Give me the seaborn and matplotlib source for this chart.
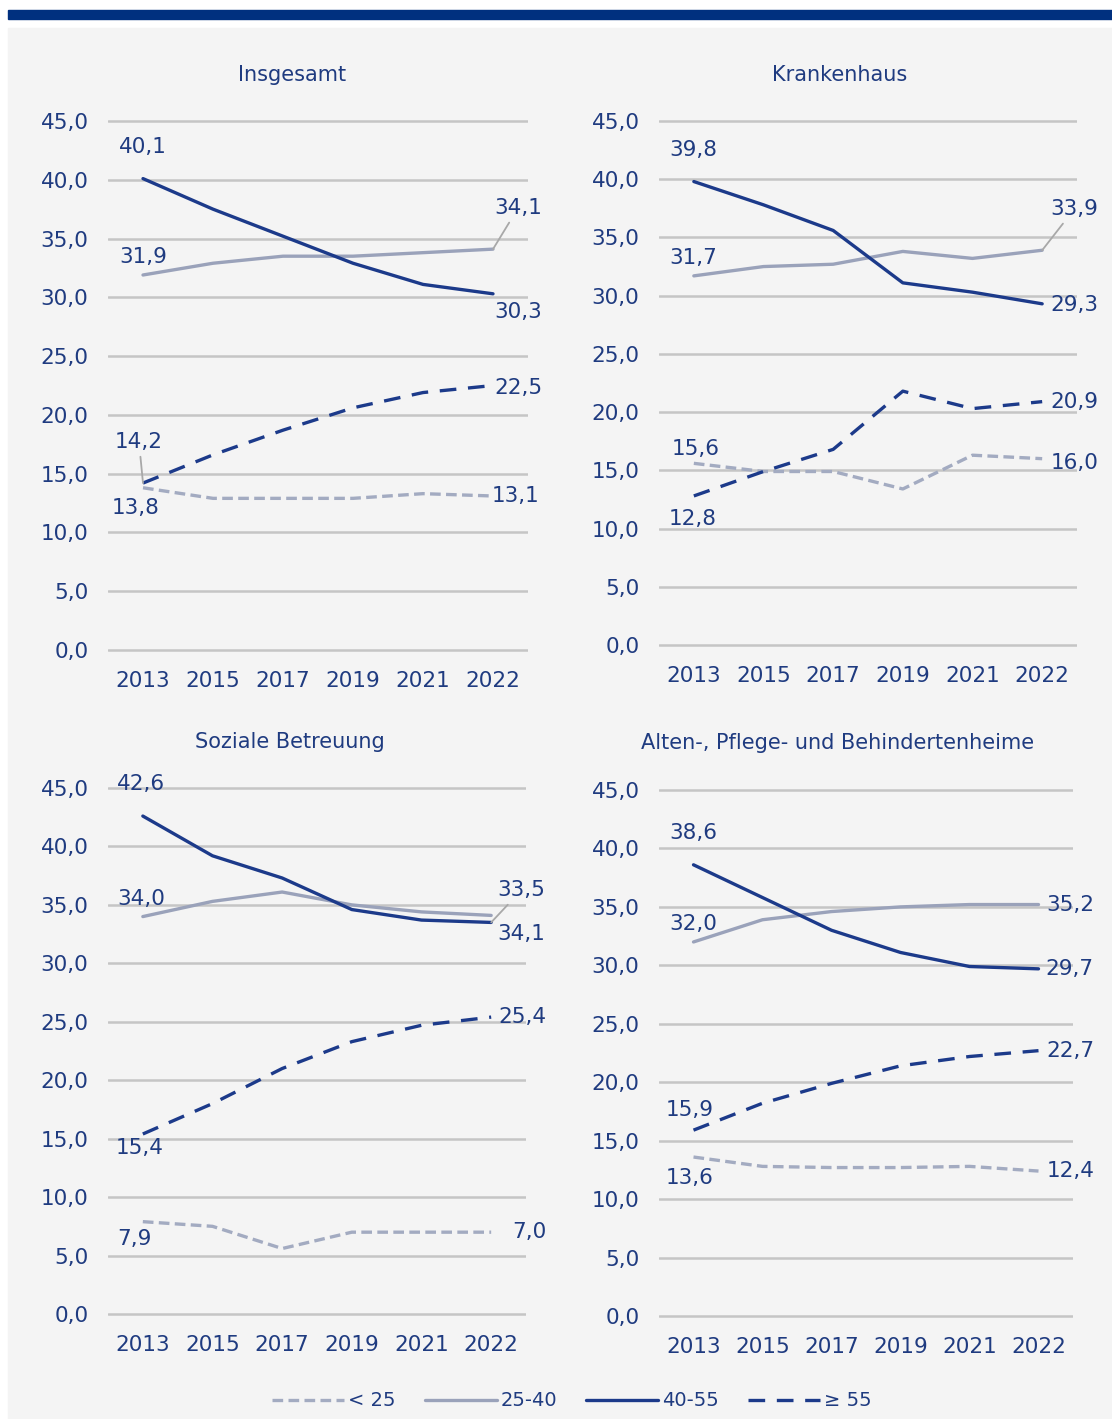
import pandas as pd
import seaborn as sns
import matplotlib.pyplot as plt
from matplotlib.patches import Rectangle
from matplotlib.ticker import FuncFormatter

years = ["2013", "2015", "2017", "2019", "2021", "2022"]
groups = ["< 25", "25-40", "40-55", "≥ 55"]
titles = ["Insgesamt", "Krankenhaus", "Soziale Betreuung",
          "Alten-, Pflege- und Behindertenheime"]

insgesamt = {
    "< 25": [13.8, 12.9, 12.9, 12.9, 13.3, 13.1],
    "25-40": [31.9, 32.9, 33.5, 33.5, 33.8, 34.1],
    "40-55": [40.1, 37.5, 35.2, 32.9, 31.1, 30.3],
    "≥ 55": [14.2, 16.6, 18.7, 20.6, 21.9, 22.5],
}
krankenhaus = {
    "< 25": [15.6, 14.9, 14.9, 13.4, 16.3, 16.0],
    "25-40": [31.7, 32.5, 32.7, 33.8, 33.2, 33.9],
    "40-55": [39.8, 37.8, 35.6, 31.1, 30.3, 29.3],
    "≥ 55": [12.8, 14.9, 16.8, 21.8, 20.3, 20.9],
}
soziale = {
    "< 25": [7.9, 7.5, 5.6, 7.0, 7.0, 7.0],
    "25-40": [34.0, 35.3, 36.1, 35.0, 34.4, 34.1],
    "40-55": [42.6, 39.2, 37.3, 34.6, 33.7, 33.5],
    "≥ 55": [15.4, 18.0, 21.0, 23.3, 24.7, 25.4],
}
heime = {
    "< 25": [13.6, 12.8, 12.7, 12.7, 12.8, 12.4],
    "25-40": [32.0, 33.9, 34.6, 35.0, 35.2, 35.2],
    "40-55": [38.6, 35.8, 33.0, 31.1, 29.9, 29.7],
    "≥ 55": [15.9, 18.2, 19.9, 21.4, 22.2, 22.7],
}
panel_data = [insgesamt, krankenhaus, soziale, heime]

# label offsets in pixels (dx, dy up, leader line) for first / last point
offsets = [
    {"< 25": ((-7, -20, 0), (23, 0, 0)), "25-40": ((0, 18, 0), (25, 41, 1)),
     "40-55": ((0, 32, 0), (25, -18, 0)), "≥ 55": ((-4, 41, 1), (25, -2, 0))},
    {"< 25": ((2, 14, 0), (32, -4, 0)), "25-40": ((-1, 18, 0), (32, 41, 1)),
     "40-55": ((-1, 32, 0), (32, -1, 0)), "≥ 55": ((-1, -23, 0), (32, 0, 0))},
    {"< 25": ((-8, -17, 0), (38, 0, 0)), "25-40": ((-2, 18, 0), (30, -19, 0)),
     "40-55": ((-2, 32, 0), (30, 32, 1)), "≥ 55": ((-3, -14, 0), (31, 0, 0))},
    {"< 25": ((-4, -21, 0), (32, 0, 0)), "25-40": ((0, 18, 0), (32, 0, 0)),
     "40-55": ((0, 32, 0), (31, 0, 0)), "≥ 55": ((-4, 20, 0), (32, 0, 0))},
]

W, H = 1112, 1419
# pixel frames: x left, x right, y of 0, y of 45, title x, title y
frames = [
    (108, 528, 650, 121, 292, 75),
    (659, 1077, 645, 121, 840, 75),
    (108, 526, 1314, 788, 290, 742),
    (659, 1073, 1316, 790, 838, 743),
]

navy = "#1c3a8a"
text_navy = "#1f3b80"
palette = {"< 25": "#a3abc1", "25-40": "#9aa2ba", "40-55": navy, "≥ 55": navy}
dashes = {"< 25": (3.2, 1.6), "25-40": "", "40-55": "", "≥ 55": (5, 3.5)}

sns.set_style("white")
plt.rcParams["font.family"] = ["DejaVu Sans"]

fig = plt.figure(figsize=(W / 100, H / 100), dpi=100)
fig.add_artist(Rectangle((8 / W, 0), 1 - 8 / W, 1 - 28 / H,
                         transform=fig.transFigure, color="#f4f4f4", zorder=-5))
fig.add_artist(Rectangle((8 / W, 1 - 19 / H), 1 - 8 / W, 9 / H,
                         transform=fig.transFigure, color="#00307f", zorder=-5))

fmt = FuncFormatter(lambda v, p: f"{v:.1f}".replace(".", ","))
handles, labels = None, None

for k, data in enumerate(panel_data):
    xl, xr, y0, y45, tx, ty = frames[k]
    ppu = (y0 - y45) / 45
    bot = y0 + 0.6 * ppu
    top = y45 - 0.6 * ppu
    ax = fig.add_axes([xl / W, 1 - bot / H, (xr - xl) / W, (bot - top) / H])
    ax.set_facecolor("none")

    rows = []
    for g in groups:
        for i, v in enumerate(data[g]):
            rows.append([i, v, g])
    df = pd.DataFrame(rows, columns=["pos", "value", "Alter"])

    sns.lineplot(data=df, x="pos", y="value", hue="Alter", style="Alter",
                 palette=palette, dashes=dashes, hue_order=groups,
                 style_order=groups, linewidth=2.4, ax=ax, legend=(k == 0))
    if k == 0:
        handles, labels = ax.get_legend_handles_labels()
        ax.get_legend().remove()

    ax.set_xlim(-0.5, 5.5)
    ax.set_ylim(-0.6, 45.6)
    ax.set_xticks(range(len(years)), years)
    ax.set_yticks(range(0, 46, 5))
    ax.yaxis.set_major_formatter(fmt)
    ax.yaxis.grid(True, color="#c5c5c5", linewidth=1.8)
    ax.set_axisbelow(True)
    for s in ax.spines.values():
        s.set_visible(False)
    ax.tick_params(length=0, labelsize=15.5, colors=text_navy)
    ax.tick_params(axis="y", pad=14)
    ax.tick_params(axis="x", pad=10)
    ax.set_xlabel("")
    ax.set_ylabel("")

    for g in groups:
        vals = data[g]
        for idx, (dx, dy, lead) in zip([0, len(vals) - 1], offsets[k][g]):
            txt = f"{vals[idx]:.1f}".replace(".", ",")
            kw = {}
            if lead:
                kw["arrowprops"] = dict(arrowstyle="-", color="#a8a8a8", lw=1.3,
                                        shrinkA=1, shrinkB=0)
            ax.annotate(txt, xy=(idx, vals[idx]), xytext=(dx, dy),
                        textcoords="offset pixels", ha="center", va="center",
                        fontsize=15.5, color=text_navy, annotation_clip=False, **kw)

    fig.text(tx / W, 1 - ty / H, titles[k], ha="center", va="center",
             fontsize=15, color=text_navy)

fig.legend(handles, labels, loc="center", bbox_to_anchor=(572 / W, 1 - 1401 / H),
           ncol=4, frameon=False, fontsize=14, handlelength=3.7,
           handletextpad=0.2, columnspacing=1.5, labelcolor=text_navy)

fig.savefig("out.png", dpi=100)
